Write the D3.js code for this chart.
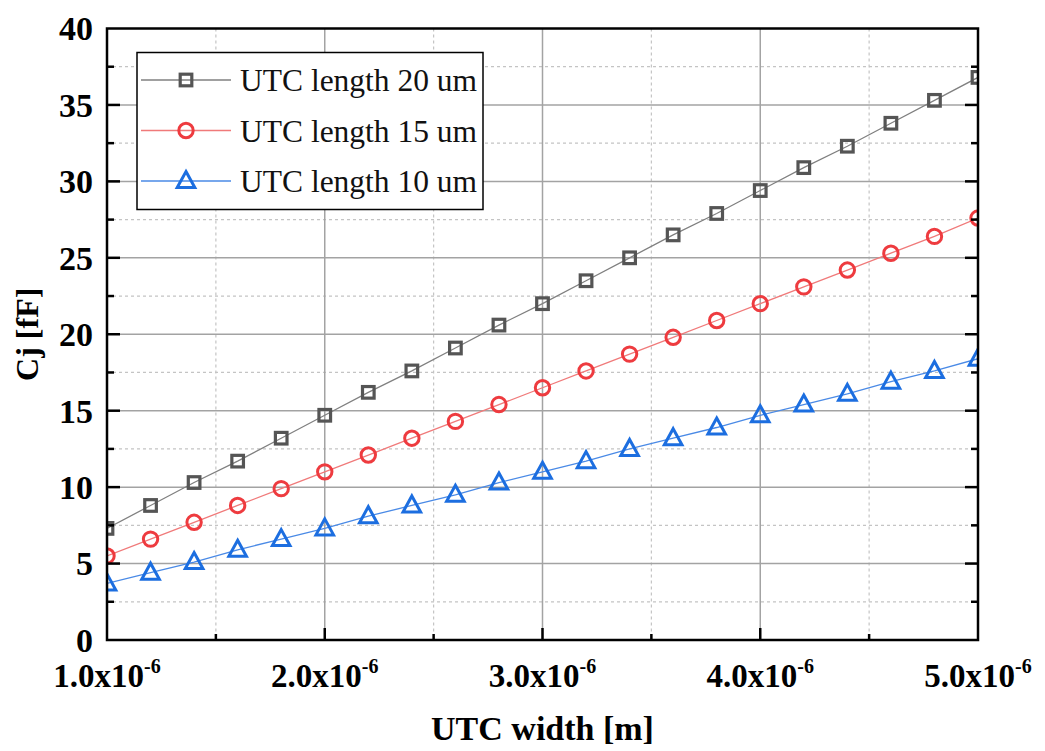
<!DOCTYPE html>
<html><head><meta charset="utf-8">
<script src="https://cdn.jsdelivr.net/npm/d3@7"></script>
<style>body{margin:0;background:#fff}svg{display:block}text{font-family:"Liberation Serif","Times New Roman",serif}</style>
</head><body>
<svg id="c" width="1045" height="751"></svg>
<script>
const widths = [1.0,1.2,1.4,1.6,1.8,2.0,2.2,2.4,2.6,2.8,3.0,3.2,3.4,3.6,3.8,4.0,4.2,4.4,4.6,4.8,5.0]; // x1e-6 m
const len20 = [7.3,8.8,10.3,11.7,13.2,14.7,16.2,17.6,19.1,20.6,22.0,23.5,25.0,26.5,27.9,29.4,30.9,32.3,33.8,35.3,36.8];
const len15 = [5.5,6.6,7.7,8.8,9.9,11.0,12.1,13.2,14.3,15.4,16.5,17.6,18.7,19.8,20.9,22.0,23.1,24.2,25.3,26.4,27.6];
const len10 = [3.7,4.4,5.1,5.9,6.6,7.3,8.1,8.8,9.5,10.3,11.0,11.7,12.5,13.2,13.9,14.7,15.4,16.1,16.9,17.6,18.4];
const seriesNames = ["UTC length 20 um","UTC length 15 um","UTC length 10 um"];
const xTicks = [1.0,2.0,3.0,4.0,5.0];
const yTicks = [0,5,10,15,20,25,30,35,40];

const svg = d3.select("#c");
const L=107,R=978,T=28.5,B=640;
const x = d3.scaleLinear().domain([1,5]).range([L,R]);
const y = d3.scaleLinear().domain([0,40]).range([B,T]);

const series = [
 {name:seriesNames[0], vals:len20, line:"#808080", mk:"#555555", shape:"square"},
 {name:seriesNames[1], vals:len15, line:"#f07a7a", mk:"#ee3b3f", shape:"circle"},
 {name:seriesNames[2], vals:len10, line:"#4a8ae6", mk:"#1c6ee0", shape:"triangle"}
];

// grid
const g = svg.append("g");
const minorX = [1.5,2.5,3.5,4.5];
const minorY = d3.range(2.5,40,5);
g.selectAll(".mx").data(minorX).join("line").attr("x1",d=>x(d)).attr("x2",d=>x(d)).attr("y1",T).attr("y2",B)
  .attr("stroke","#c4c4c4").attr("stroke-width",1.2).attr("stroke-dasharray","3,3");
g.selectAll(".my").data(minorY).join("line").attr("y1",d=>y(d)).attr("y2",d=>y(d)).attr("x1",L).attr("x2",R)
  .attr("stroke","#c4c4c4").attr("stroke-width",1.2).attr("stroke-dasharray","3,3");
g.selectAll(".gx").data(xTicks.slice(1,-1)).join("line").attr("x1",d=>x(d)).attr("x2",d=>x(d)).attr("y1",T).attr("y2",B)
  .attr("stroke","#a3a3a3").attr("stroke-width",1.5);
g.selectAll(".gy").data(yTicks.slice(1,-1)).join("line").attr("y1",d=>y(d)).attr("y2",d=>y(d)).attr("x1",L).attr("x2",R)
  .attr("stroke","#a3a3a3").attr("stroke-width",1.5);

// clip
svg.append("clipPath").attr("id","clip").append("rect").attr("x",L).attr("y",T).attr("width",R-L).attr("height",B-T);
const plot = svg.append("g").attr("clip-path","url(#clip)");

const lineGen = d3.line().x((d,i)=>x(widths[i])).y(d=>y(d));
function drawMarker(sel, shape, color){
  if(shape==="square"){
    sel.append("rect").attr("x",-5.8).attr("y",-5.8).attr("width",11.6).attr("height",11.6)
      .attr("fill","none").attr("stroke",color).attr("stroke-width",3.2);
  } else if(shape==="circle"){
    sel.append("circle").attr("r",7.2).attr("fill","none").attr("stroke",color).attr("stroke-width",3);
  } else {
    sel.append("path").attr("d","M0,-9.5L8.8,6.5L-8.8,6.5Z").attr("fill","none").attr("stroke",color).attr("stroke-width",3).attr("stroke-linejoin","miter");
  }
}
series.forEach(s=>{
  plot.append("path").datum(s.vals).attr("d",lineGen).attr("fill","none").attr("stroke",s.line).attr("stroke-width",1.3);
});
series.forEach(s=>{
  plot.selectAll(null).data(s.vals).join("g").attr("transform",(d,i)=>`translate(${x(widths[i])},${y(d)})`)
    .each(function(){ drawMarker(d3.select(this), s.shape, s.mk); });
});

// axes ticks (inward)
const ax = svg.append("g").attr("stroke","#000");
ax.selectAll(".tb").data(xTicks.slice(1,-1)).join("line").attr("x1",d=>x(d)).attr("x2",d=>x(d)).attr("y1",B).attr("y2",B-12).attr("stroke-width",2.5);
ax.selectAll(".tbm").data(minorX).join("line").attr("x1",d=>x(d)).attr("x2",d=>x(d)).attr("y1",B).attr("y2",B-6).attr("stroke-width",2.5);
[L,R].forEach((xx,k)=>{
  const dir = k===0?1:-1;
  ax.selectAll(null).data(yTicks.slice(1,-1)).join("line").attr("y1",d=>y(d)).attr("y2",d=>y(d)).attr("x1",xx).attr("x2",xx+dir*13).attr("stroke-width",2.5);
  ax.selectAll(null).data(minorY).join("line").attr("y1",d=>y(d)).attr("y2",d=>y(d)).attr("x1",xx).attr("x2",xx+dir*7).attr("stroke-width",2.5);
});
svg.append("rect").attr("x",L).attr("y",T).attr("width",R-L).attr("height",B-T).attr("fill","none").attr("stroke","#000").attr("stroke-width",2.5);

// tick labels
svg.selectAll(".yl").data(yTicks).join("text").attr("x",L-14).attr("y",d=>y(d)).attr("dy","0.35em")
  .attr("text-anchor","end").attr("font-size",34).attr("font-weight","bold").text(d=>d);
const xl = svg.selectAll(".xl").data(xTicks).join("text").attr("x",d=>x(d)).attr("y",B+47)
  .attr("text-anchor","middle").attr("font-size",33).attr("font-weight","bold");
xl.append("tspan").text(d=>d.toFixed(1)+"x10");
xl.append("tspan").attr("dy",-14).attr("font-size",20).text("-6");

// axis titles
svg.append("text").attr("x",(L+R)/2).attr("y",740).attr("text-anchor","middle").attr("font-size",34).attr("font-weight","bold").text("UTC width [m]");
svg.append("text").attr("transform",`translate(38,${(T+B)/2}) rotate(-90)`).attr("text-anchor","middle").attr("font-size",32).attr("font-weight","bold").text("Cj [fF]");

// legend
const lg = svg.append("g");
lg.append("rect").attr("x",137).attr("y",52.5).attr("width",346).attr("height",157).attr("fill","#fff").attr("stroke","#000").attr("stroke-width",1.5);
series.forEach((s,i)=>{
  const yy = 80 + i*50.5;
  lg.append("line").attr("x1",141).attr("x2",231).attr("y1",yy).attr("y2",yy).attr("stroke",s.line).attr("stroke-width",1.3);
  drawMarker(lg.append("g").attr("transform",`translate(186,${yy})`), s.shape, s.mk);
  lg.append("text").attr("x",240).attr("y",yy).attr("dy","0.35em").attr("font-size",31.5).attr("fill","#111").text(s.name);
});
</script>
</body></html>
